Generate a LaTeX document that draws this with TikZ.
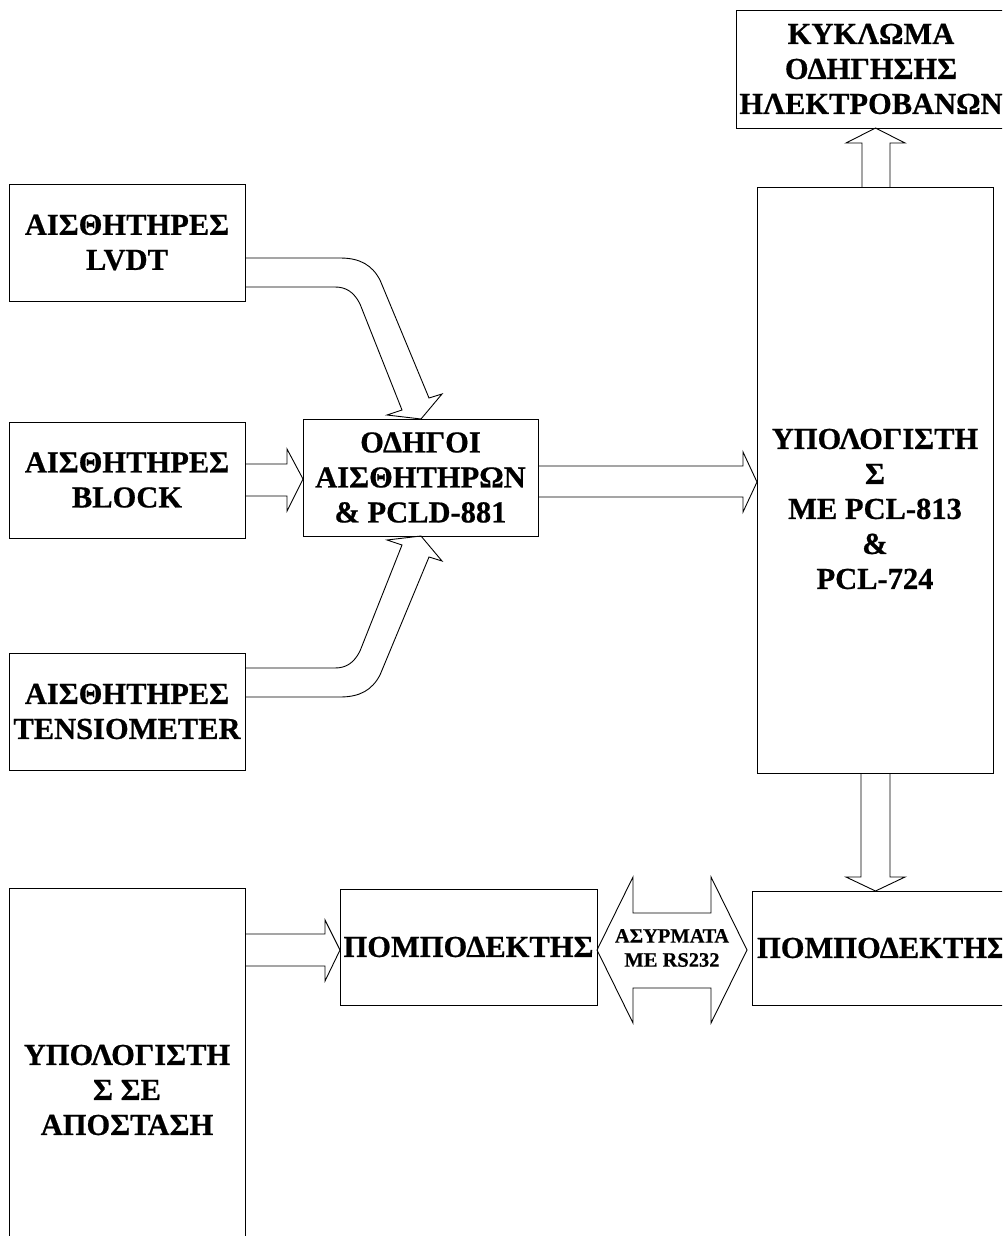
\documentclass[tikz,border=0pt]{standalone}
\usepackage{fontspec}
\setmainfont{Liberation Serif}[BoldFeatures={FakeBold=0.6}]
\begin{document}
\begin{tikzpicture}[x=1pt,y=-1pt,
  box/.style={draw, line width=0.9pt, inner sep=0pt, align=center, font=\bfseries\fontsize{30.5}{35}\selectfont},
  txt/.style={inner sep=0pt, align=center, font=\bfseries\fontsize{30.5}{35}\selectfont},
  fat/.style={draw, line width=0.9pt, line join=miter},
  small/.style={inner sep=0pt, align=center, font=\bfseries\fontsize{20.5}{24}\selectfont}]
\useasboundingbox (0,0) rectangle (1002,1236);
\clip (0,0) rectangle (1002,1236);
% boxes
\node[box, minimum width=270pt, minimum height=118pt] (kyk) at (871,69) {ΚΥΚΛΩΜΑ\\ΟΔΗΓΗΣΗΣ\\ΗΛΕΚΤΡΟΒΑΝΩΝ};
\node[box, minimum width=236pt, minimum height=117pt] (lvdt) at (127,242.5) {ΑΙΣΘΗΤΗΡΕΣ\\LVDT};
\node[box, minimum width=236pt, minimum height=116pt] (block) at (127,480) {ΑΙΣΘΗΤΗΡΕΣ\\BLOCK};
\node[box, minimum width=236pt, minimum height=117pt] (tens) at (127,711.5) {ΑΙΣΘΗΤΗΡΕΣ\\TENSIOMETER};
\node[box, minimum width=235pt, minimum height=117pt] (drv) at (420.5,477.5) {ΟΔΗΓΟΙ\\ΑΙΣΘΗΤΗΡΩΝ\\\& PCLD-881};
\node[draw, line width=0.9pt, minimum width=236pt, minimum height=586pt] (pc) at (875,480) {};
\node[txt] (pctext) at (875,509) {ΥΠΟΛΟΓΙΣΤΗ\\Σ\\ΜΕ PCL-813\\\&\\PCL-724};
\node[box, minimum width=257pt, minimum height=116pt] (tx1) at (468.5,947) {ΠΟΜΠΟΔΕΚΤΗΣ};
\node[box, minimum width=260pt, minimum height=114pt] (tx2) at (882,948) {ΠΟΜΠΟΔΕΚΤΗΣ};
\node[box, minimum width=236pt, minimum height=404pt] (rpc) at (127,1090) {ΥΠΟΛΟΓΙΣΤΗ\\Σ ΣΕ\\ΑΠΟΣΤΑΣΗ};
% fat arrows
\draw[fat] (862,187) -- (862,143) -- (846,143) -- (875.5,128) -- (905,143) -- (890,143) -- (890,187);
\draw[fat] (861,773) -- (861,877) -- (846,877) -- (875.5,891) -- (905,877) -- (890,877) -- (890,773);
\draw[fat] (245,464) -- (287,464) -- (287,449) -- (303,479) -- (287,511) -- (287,496) -- (245,496);
\draw[fat] (538,466) -- (743,466) -- (743,452) -- (757,482) -- (743,512) -- (743,497) -- (538,497);
\draw[fat] (245,934) -- (325,934) -- (325,920) -- (340,950) -- (325,981) -- (325,966) -- (245,966);
\draw[fat] (597,950) -- (633,877) -- (633,913) -- (711,913) -- (711,877) -- (747,950) -- (711,1023) -- (711,988) -- (633,988) -- (633,1023) -- cycle;
\node[small] (wl) at (672,948) {ΑΣΥΡΜΑΤΑ\\ΜΕ RS232};
% curved arrows
\draw[fat] (245,258) -- (340,258) .. controls (360,258) and (372,265) .. (380,280) -- (429,398)
  -- (442,394) -- (421,419) -- (387,415) -- (402,410)
  -- (360,304) .. controls (354,292) and (346,287) .. (335,287) -- (245,287);
\draw[fat] (245,697) -- (340,697) .. controls (360,697) and (372,690) .. (380,675) -- (429,557)
  -- (442,561) -- (421,536) -- (387,540) -- (402,545)
  -- (360,651) .. controls (354,663) and (346,668) .. (335,668) -- (245,668);
\end{tikzpicture}
\end{document}
